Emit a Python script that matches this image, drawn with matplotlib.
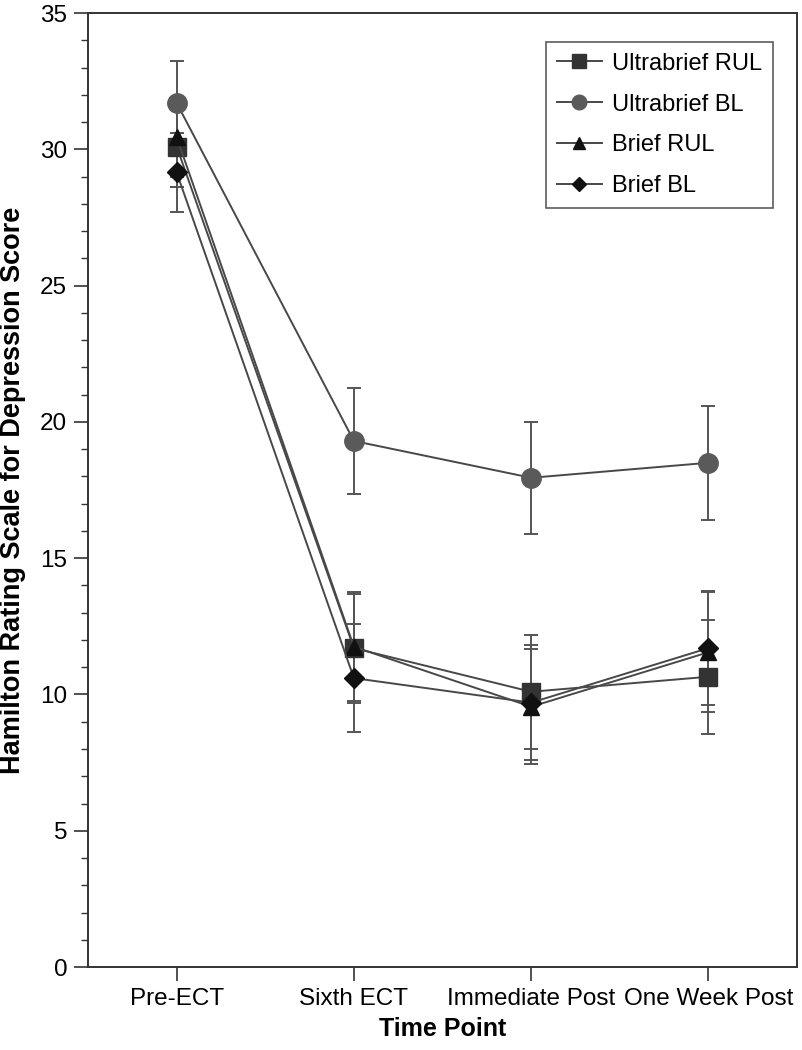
import matplotlib
matplotlib.use('Agg')
import matplotlib.pyplot as plt
from matplotlib.ticker import MultipleLocator

plt.rcParams['font.family'] = ['Liberation Sans', 'DejaVu Sans']

time_points = ['Pre-ECT', 'Sixth ECT', 'Immediate Post', 'One Week Post']

ub_rul = [30.1, 11.7, 10.1, 10.65]
ub_rul_err = [1.5, 2.0, 2.1, 2.1]
ub_bl = [31.7, 19.3, 17.95, 18.5]
ub_bl_err = [1.55, 1.95, 2.05, 2.1]
brief_rul = [30.45, 11.75, 9.55, 11.55]
brief_rul_err = [1.45, 2.0, 2.1, 2.2]
brief_bl = [29.15, 10.6, 9.7, 11.7]
brief_bl_err = [1.45, 1.98, 2.1, 2.1]

series = [
    ('Ultrabrief RUL', ub_rul, ub_rul_err, 's', '#333333', 13),
    ('Ultrabrief BL', ub_bl, ub_bl_err, 'o', '#5a5a5a', 14),
    ('Brief RUL', brief_rul, brief_rul_err, '^', '#111111', 12),
    ('Brief BL', brief_bl, brief_bl_err, 'D', '#111111', 10),
]

fig = plt.figure(figsize=(8.03, 10.5), dpi=100)
ax = fig.add_axes([0.1096, 0.079, 0.883, 0.9086])

x = list(range(1, len(time_points) + 1))
# error bars first, then lines + markers on top
for name, vals, errs, marker, color, ms in series:
    ax.errorbar(x, vals, yerr=errs, fmt='none', ecolor='#555555', elinewidth=1.4,
                capsize=4.8, capthick=1.4)
for name, vals, errs, marker, color, ms in series:
    ax.plot(x, vals, color='#484848', lw=1.4, marker=marker, ms=ms,
            mfc=color, mec=color, label=name)

ax.set_xlim(0.5, 4.5)
ax.set_ylim(0, 35)
ax.set_yticks(range(0, 36, 5))
ax.yaxis.set_minor_locator(MultipleLocator(1))
ax.set_xticks(x)
ax.set_xticklabels(time_points)
ax.tick_params(labelsize=17.5, direction='out', length=10, width=1.2, color='#333333', pad=5)
ax.tick_params(which='minor', direction='out', length=5, width=1.0, color='#333333')
for sp in ax.spines.values():
    sp.set_linewidth(1.4)
    sp.set_color('#333333')

ax.set_xlabel('Time Point', fontsize=18, fontweight='bold', labelpad=5)
ax.set_ylabel('Hamilton Rating Scale for Depression Score', fontsize=19.5,
              fontweight='bold', labelpad=10)

leg = ax.legend(loc='upper right', bbox_to_anchor=(0.966, 0.9696), borderaxespad=0,
                fontsize=17, frameon=True, fancybox=False, edgecolor='#333333',
                borderpad=0.45, labelspacing=0.8, handlelength=1.9,
                handletextpad=0.45, markerscale=0.75)
leg.get_frame().set_linewidth(1.2)

fig.savefig('out.png', dpi=100)
